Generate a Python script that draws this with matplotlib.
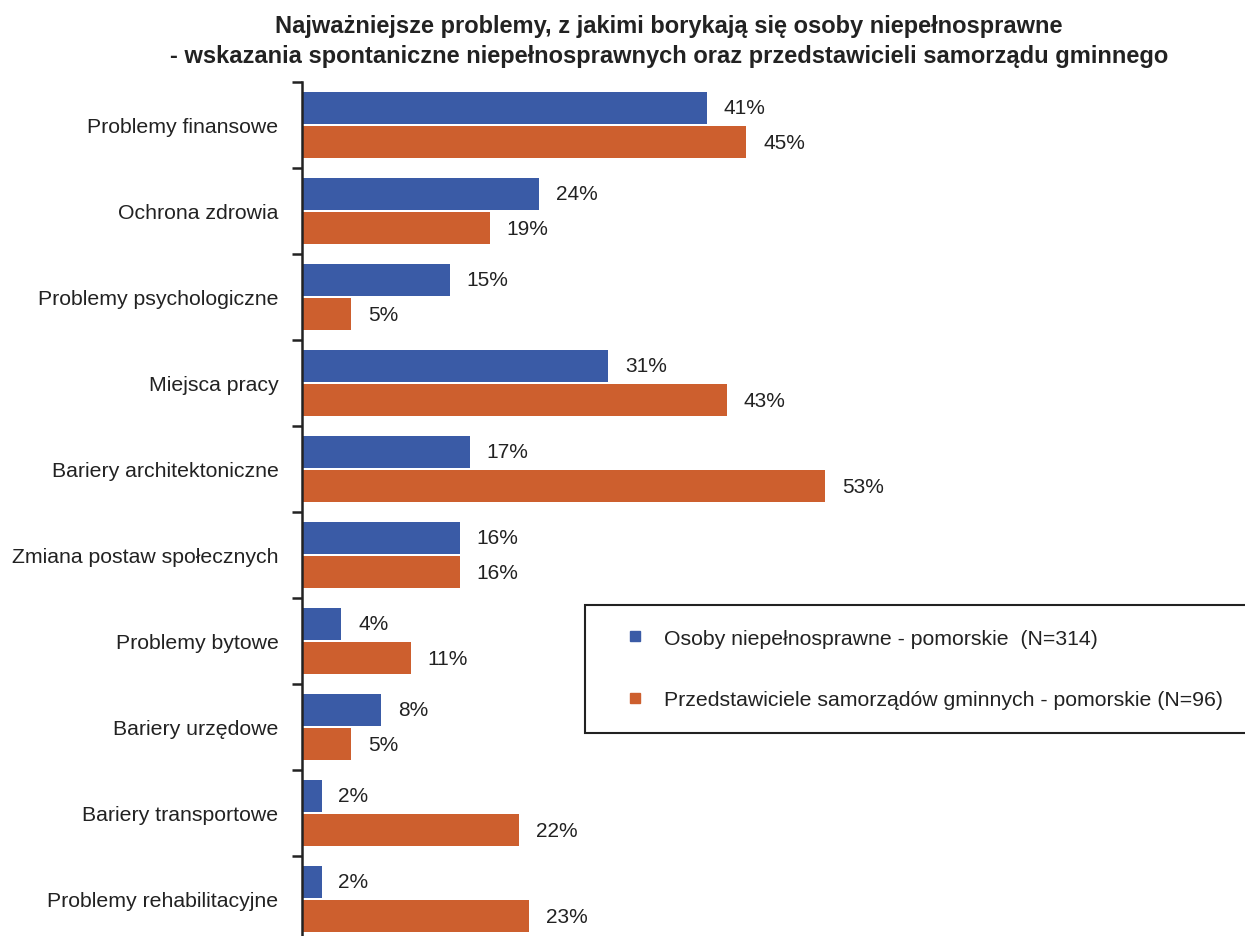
import numpy as np
import matplotlib
matplotlib.use("Agg")
import matplotlib.pyplot as plt
from matplotlib.lines import Line2D

plt.rcParams['font.family'] = ['Liberation Sans', 'DejaVu Sans']

# dane
kategorie = ["Problemy finansowe", "Ochrona zdrowia", "Problemy psychologiczne",
             "Miejsca pracy", "Bariery architektoniczne", "Zmiana postaw społecznych",
             "Problemy bytowe", "Bariery urzędowe", "Bariery transportowe",
             "Problemy rehabilitacyjne"]
niepelnosprawni = [41, 24, 15, 31, 17, 16, 4, 8, 2, 2]
samorzady = [45, 19, 5, 43, 53, 16, 11, 5, 22, 23]
serie = ["Osoby niepełnosprawne - pomorskie  (N=314)",
         "Przedstawiciele samorządów gminnych - pomorskie (N=96)"]

kol_nieb = "#3A5BA6"
kol_pom = "#CD5F2E"
tekst = "#222222"

fig = plt.figure(figsize=(12.45, 9.37), dpi=100)
ax = fig.add_axes([302/1245, -6/937, 943/1245, 860/937])

y = np.arange(len(kategorie))
h = 0.37
b1 = ax.barh(y - 0.2, niepelnosprawni, height=h, color=kol_nieb)
b2 = ax.barh(y + 0.2, samorzady, height=h, color=kol_pom)

for bars in (b1, b2):
    for b in bars:
        w = b.get_width()
        ax.annotate(f"{w:g}%", (w, b.get_y() + b.get_height()/2),
                    xytext=(12, 0), textcoords="offset points",
                    va="center", ha="left", fontsize=15, color=tekst)

ax.set_xlim(0, 95.5)
ax.set_ylim(len(kategorie) - 0.5, -0.5)
ax.set_yticks(y)
ax.set_yticklabels(kategorie, fontsize=15.3, color=tekst)
ax.tick_params(axis="y", which="major", length=0, pad=17)
ax.set_yticks(np.arange(len(kategorie) + 1) - 0.5, minor=True)
ax.tick_params(axis="y", which="minor", length=7, width=1.8, color=tekst)
ax.set_xticks([])
for s in ("top", "right", "bottom"):
    ax.spines[s].set_visible(False)
ax.spines["left"].set_linewidth(1.8)
ax.spines["left"].set_color(tekst)

fig.text(669/1245, 1 - 27/937, "Najważniejsze problemy, z jakimi borykają się osoby niepełnosprawne",
         ha="center", va="center", fontsize=17, fontweight="bold", color=tekst)
fig.text(669/1245, 1 - 57/937, "- wskazania spontaniczne niepełnosprawnych oraz przedstawicieli samorządu gminnego",
         ha="center", va="center", fontsize=17, fontweight="bold", color=tekst)

uchwyty = [Line2D([], [], marker="s", linestyle="none", markersize=7, color=kol_nieb),
           Line2D([], [], marker="s", linestyle="none", markersize=7, color=kol_pom)]
leg = fig.legend(uchwyty, serie, loc="center left",
                 bbox_to_anchor=(585/1245, 1 - 734/937, 680/1245, 128/937),
                 mode="expand", fontsize=15.3, labelspacing=2.0, handletextpad=0.1,
                 borderpad=1.1, borderaxespad=0, fancybox=False, framealpha=1,
                 handlelength=2.5)
leg.get_frame().set_edgecolor(tekst)
leg.get_frame().set_linewidth(1.5)
for t in leg.get_texts():
    t.set_color(tekst)

fig.savefig("out.png", dpi=100, facecolor="white")
